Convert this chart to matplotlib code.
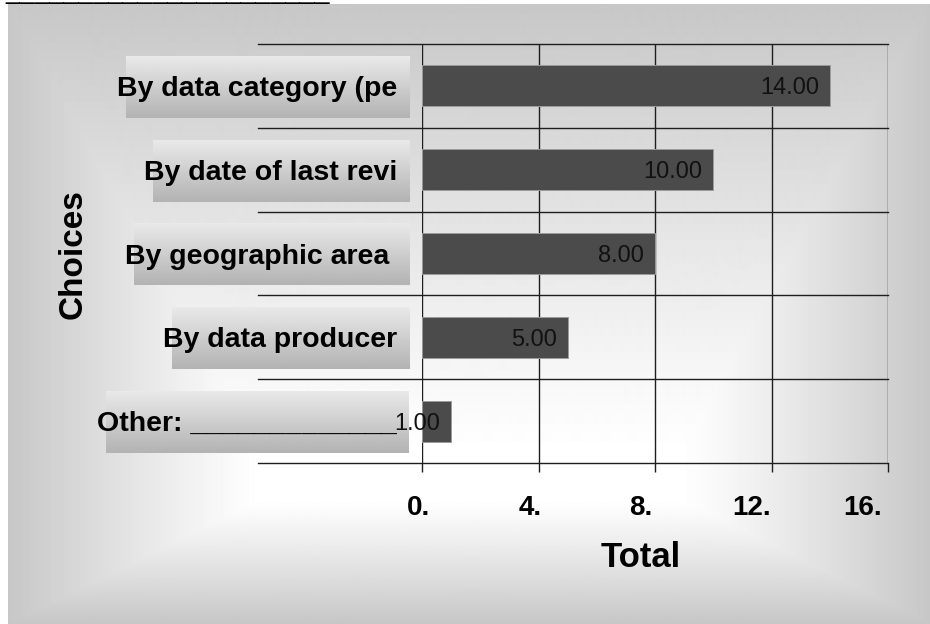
import numpy as np
import matplotlib
matplotlib.use("Agg")
import matplotlib.pyplot as plt

plt.rcParams["font.family"] = ["Liberation Sans", "DejaVu Sans"]

# ---- data -------------------------------------------------------------
categories = [
    "By data category (pe",
    "By date of last revi",
    "By geographic area ",
    "By data producer",
    "Other: _____________",
]
totals = [14.0, 10.0, 8.0, 5.0, 1.0]
tick_values = [0, 4, 8, 12, 16]
tick_labels = ["0.", "4.", "8.", "12.", "16."]
x_title = "Total"
y_title = "Choices"

W, H = 930, 624
fig = plt.figure(figsize=(W / 100, H / 100), dpi=100)
fig.patch.set_facecolor("white")

# ---- background panel with a rectangular path gradient ------------------
bg = fig.add_axes([0, 0, 1, 1], zorder=0)
bg.set_xlim(0, W)
bg.set_ylim(0, H)
bg.axis("off")

px0, px1, py0, py1 = 8, W, 4, H          # panel bounds (image coords)
fx0, fx1, fy0, fy1 = 260, 680, 455, 500  # white focus rectangle
xs = np.arange(px0, px1) + 0.5
ys = np.arange(py0, py1) + 0.5
X, Y = np.meshgrid(xs, ys)
tx = np.maximum(np.clip(fx0 - X, 0, None) / (fx0 - px0),
                np.clip(X - fx1, 0, None) / (px1 - fx1))
ty = np.maximum(np.clip(fy0 - Y, 0, None) / (fy0 - py0),
                np.clip(Y - fy1, 0, None) / (py1 - fy1))
t = np.clip(np.maximum(tx, ty), 0, 1)
shade = 1.0 - 0.22 * t ** 1.1
bg.imshow(shade, extent=(px0, px1, H - py1, H - py0), origin="upper",
          cmap="gray", vmin=0, vmax=1, aspect="auto", interpolation="bilinear")

# ---- main bar axes --------------------------------------------------------
ax_left, ax_right, ax_top, ax_bottom = 422, 888, 44, 463
ax = fig.add_axes([ax_left / W, (H - ax_bottom) / H,
                   (ax_right - ax_left) / W, (ax_bottom - ax_top) / H], zorder=1)
ax.set_facecolor("none")
for s in ax.spines.values():
    s.set_visible(False)

ypos = np.arange(len(categories))
ax.set_xlim(tick_values[0], tick_values[-1])
ax.set_ylim(len(categories) - 0.5, -0.5)

line_col = "#1e1e1e"
ext = -(ax_left - 258) / (ax_right - ax_left)
for b in np.arange(-0.5, len(categories), 1.0):
    ax.axhline(b, xmin=ext, xmax=1, color=line_col, lw=1.0, clip_on=False, zorder=2)
for v in tick_values:
    ax.axvline(v, color=line_col, lw=1.0, zorder=2)

ax.barh(ypos, totals, height=0.49, color="#4b4b4b", edgecolor="#9c9c9c",
        linewidth=0.7, zorder=3)

for i, v in enumerate(totals):
    ax.annotate(f"{v:.2f}", xy=(v, i), xytext=(-11, 0), textcoords="offset pixels",
                ha="right", va="center_baseline", fontsize=17, color="#111111",
                zorder=4)

ax.set_xticks(tick_values)
ax.tick_params(axis="x", length=6.5, width=1.0, color=line_col, direction="out",
               labelbottom=False)
ax.set_yticks(ypos)
ax.set_yticklabels(categories, fontsize=20.5, fontweight="bold",
                   va="center_baseline")
ax.tick_params(axis="y", length=0, pad=18)

for k, (v, s) in enumerate(zip(tick_values, tick_labels)):
    ax.annotate(s, xy=(v, 0), xycoords=("data", "axes fraction"),
                xytext=(-3 - 5.5 * k, -52), textcoords="offset pixels",
                ha="center", va="baseline", fontsize=20, fontweight="bold",
                annotation_clip=False)

fig.text(641 / W, (H - 567) / H, x_title, ha="center", va="baseline",
         fontsize=25, fontweight="bold")
fig.text(73 / W, (H - 254) / H, y_title, rotation=90, ha="center", va="center",
         fontsize=24, fontweight="bold")

# underscored heading running off the top edge
fig.text(5 / W, (H + 1) / H, "_" * 22, ha="left", va="baseline", fontsize=19)

# ---- shaded boxes behind the category labels ------------------------------
fig.canvas.draw()
renderer = fig.canvas.get_renderer()
grad = np.linspace(0.915, 0.70, 64).reshape(-1, 1)
for i, lab in enumerate(ax.get_yticklabels()):
    bb = lab.get_window_extent(renderer)
    yc = ax.transData.transform((0, ypos[i]))[1] - 1
    bg.imshow(grad, extent=(bb.x0 + 9, 409, yc - 31, yc + 31), origin="upper",
              cmap="gray", vmin=0, vmax=1, aspect="auto", interpolation="bilinear",
              zorder=2)
bg.set_xlim(0, W)
bg.set_ylim(0, H)

fig.savefig("out.png", dpi=100)
